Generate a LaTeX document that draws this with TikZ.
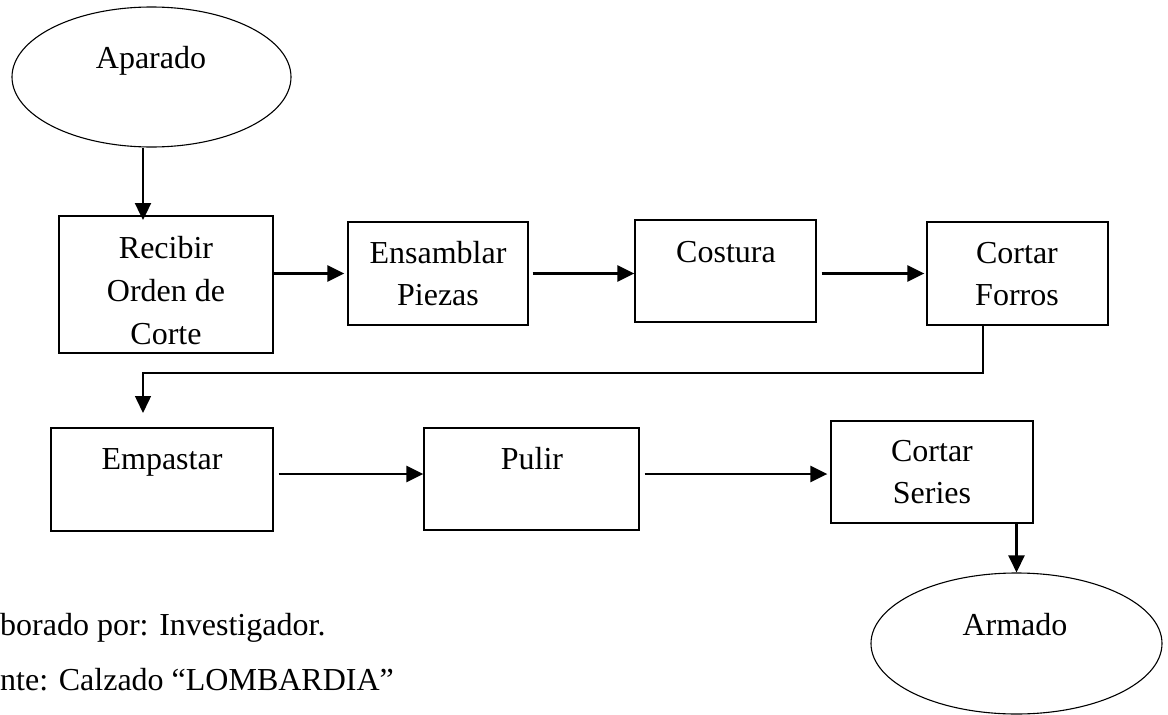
\documentclass[tikz,border=0pt]{standalone}
\usepackage{fontspec}
\setmainfont{Liberation Serif}
\usetikzlibrary{shapes.geometric,arrows.meta,calc}

\begin{document}
\begin{tikzpicture}[x=1pt,y=-1pt,
  stepbox/.style={draw, line width=1.3pt, inner sep=0pt},
  oval/.style={draw, ellipse, line width=1.1pt, inner sep=0pt},
  lbl/.style={anchor=base, font=\fontsize{32}{43}\selectfont, inner sep=0pt},
  note/.style={anchor=base west, font=\fontsize{32}{43}\selectfont, inner sep=0pt},
  flow/.style={line width=2.4pt, -{Triangle[length=17pt,width=16pt]}},
  thinflow/.style={line width=1.5pt, -{Triangle[length=17pt,width=16pt]}},
]
\useasboundingbox (0,0) rectangle (1168,715);

% start and end terminals
\node[oval, minimum width=279pt, minimum height=140pt] (apa) at (151.5,77) {};
\node[lbl] (apa-t) at (151,68) {Aparado};
\node[oval, minimum width=291pt, minimum height=141pt] (arm) at (1016.5,643.5) {};
\node[lbl] (arm-t) at (1015,635) {Armado};

% first row of steps
\node[stepbox, minimum width=214pt, minimum height=137pt] (rec) at (166,284.5) {};
\node[lbl] (rec-a) at (166,258) {Recibir};
\node[lbl] (rec-b) at (166,301) {Orden de};
\node[lbl] (rec-c) at (166,344) {Corte};

\node[stepbox, minimum width=180pt, minimum height=103pt] (ens) at (438,273.5) {};
\node[lbl] (ens-a) at (438,263) {Ensamblar};
\node[lbl] (ens-b) at (438,305) {Piezas};

\node[stepbox, minimum width=181pt, minimum height=102pt] (cos) at (725.5,271) {};
\node[lbl] (cos-a) at (726,262) {Costura};

\node[stepbox, minimum width=181pt, minimum height=103pt] (for) at (1017.5,273.5) {};
\node[lbl] (for-a) at (1017,263) {Cortar};
\node[lbl] (for-b) at (1017,305) {Forros};

% second row of steps
\node[stepbox, minimum width=222pt, minimum height=103pt] (emp) at (162,479.5) {};
\node[lbl] (emp-a) at (162,469) {Empastar};

\node[stepbox, minimum width=215pt, minimum height=102pt] (pul) at (531.5,479) {};
\node[lbl] (pul-a) at (532,469) {Pulir};

\node[stepbox, minimum width=202pt, minimum height=102pt] (ser) at (932,472) {};
\node[lbl] (ser-a) at (932,461) {Cortar};
\node[lbl] (ser-b) at (932,503) {Series};

% source notes
\node[note] (by) at (0,635) {borado por: Investigador.};
\node[note] (src) at (0,690) {nte: Calzado “LOMBARDIA”};

% connectors
\coordinate (recin) at (143,220);
\coordinate (turn) at (983,373);
\coordinate (empin) at (143,413);
\coordinate (row2) at (0,474);

\draw[flow] (apa.south -| recin) -- (recin);
\draw[flow] (rec.east |- ens.west) -- ($(ens.west)+(-3,0)$);
\draw[flow] ($(ens.east)+(4,0)$) -- (cos.west |- ens.east);
\draw[flow] ($(cos.east |- for.west)+(5,0)$) -- ($(for.west)+(-2,0)$);
\draw[thinflow] (for.south -| turn) -- (turn) -- (turn -| empin) -- (empin);
\draw[flow] ($(emp.east |- row2)+(5,0)$) -- (pul.west |- row2);
\draw[flow] ($(pul.east |- row2)+(5,0)$) -- ($(ser.west |- row2)+(-3,0)$);
\draw[flow] (ser.south -| arm.north) -- (arm.north);
\end{tikzpicture}
\end{document}
